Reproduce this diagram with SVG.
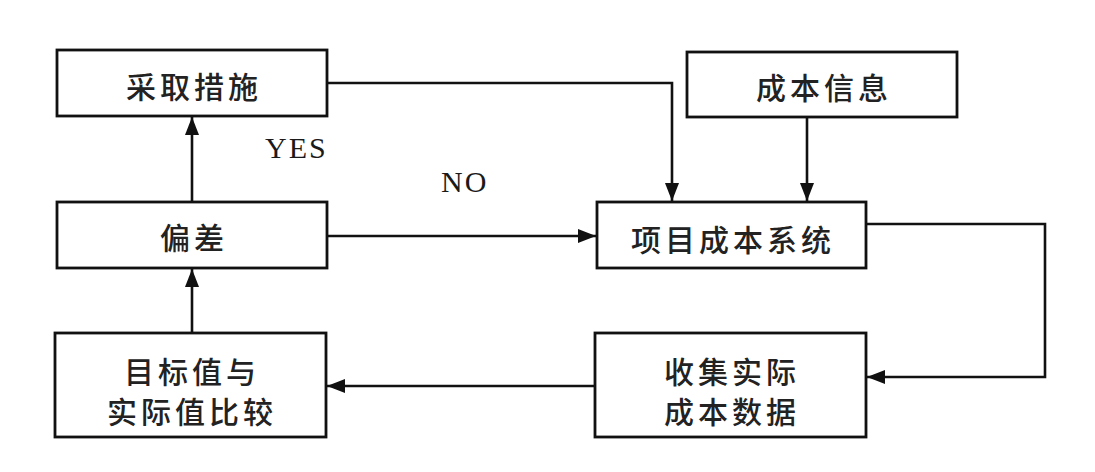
<svg xmlns="http://www.w3.org/2000/svg" width="1095" height="472" viewBox="0 0 1095 472">
<style>
.box{fill:#fff;stroke:#111;stroke-width:2.8}
.lbl{font-family:"Noto Sans CJK SC","Noto Sans",sans-serif;font-size:30px;font-weight:500;fill:#222;text-anchor:middle;dominant-baseline:central;letter-spacing:4px}
.en{font-family:"Liberation Serif",serif;font-size:30px;fill:#1a1a1a;letter-spacing:2px}
.con{fill:none;stroke:#111;stroke-width:2.6}
</style>
<defs>
<marker id="ah" markerUnits="userSpaceOnUse" markerWidth="18" markerHeight="14" refX="18" refY="7" orient="auto">
<path d="M0,0 L18,7 L0,14 z" fill="#111"/>
</marker>
</defs>
<rect width="1095" height="472" fill="#fff"/>
<g id="connectors">
<path class="con" d="M192,202 V117" marker-end="url(#ah)"/>
<path class="con" d="M192,332 V269" marker-end="url(#ah)"/>
<path class="con" d="M327,83 H672 V201" marker-end="url(#ah)"/>
<path class="con" d="M807,117 V201" marker-end="url(#ah)"/>
<path class="con" d="M327,236 H596" marker-end="url(#ah)"/>
<path class="con" d="M866,224 H1045 V377 H867" marker-end="url(#ah)"/>
<path class="con" d="M595,386 H327" marker-end="url(#ah)"/>
</g>
<g id="labels">
<text class="en" x="265" y="158">YES</text>
<text class="en" x="441" y="192">NO</text>
</g>
<g id="n-caiqu">
<rect class="box" x="57" y="50" width="270" height="66"/>
<text class="lbl" x="194" y="85">采取措施</text>
</g>
<g id="n-chengbenxinxi">
<rect class="box" x="687" y="52" width="270" height="65"/>
<text class="lbl" x="824" y="86">成本信息</text>
</g>
<g id="n-piancha">
<rect class="box" x="57" y="202" width="270" height="66"/>
<text class="lbl" x="194" y="236">偏差</text>
</g>
<g id="n-xiangmu">
<rect class="box" x="597" y="202" width="269" height="66"/>
<text class="lbl" x="733" y="238">项目成本系统</text>
</g>
<g id="n-bijiao">
<rect class="box" x="55" y="333" width="271" height="104"/>
<text class="lbl" x="192" y="370">目标值与</text>
<text class="lbl" x="192" y="410">实际值比较</text>
</g>
<g id="n-shouji">
<rect class="box" x="595" y="333" width="271" height="104"/>
<text class="lbl" x="732" y="370">收集实际</text>
<text class="lbl" x="732" y="410">成本数据</text>
</g>
</svg>
